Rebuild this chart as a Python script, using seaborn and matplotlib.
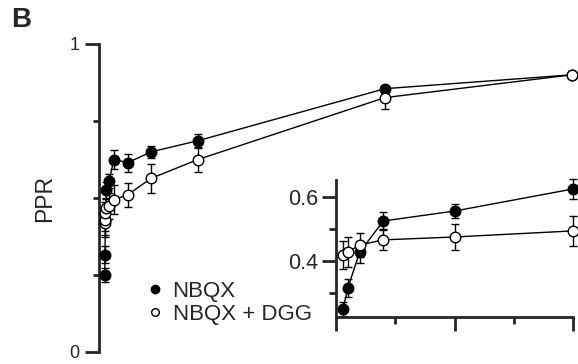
import matplotlib
matplotlib.use("Agg")
import matplotlib.pyplot as plt
import seaborn as sns
import pandas as pd
from matplotlib.lines import Line2D

# ---- data ----
isi = [6, 10, 20, 40, 100, 200, 500, 1000, 2000, 6000, 10000]
nbqx = [0.25, 0.316, 0.428, 0.525, 0.556, 0.625, 0.615, 0.650, 0.686, 0.855, 0.900]
nbqx_err = [0.022, 0.028, 0.034, 0.028, 0.022, 0.031, 0.029, 0.020, 0.023, 0.010, 0.005]
dgg = [0.419, 0.428, 0.450, 0.466, 0.475, 0.494, 0.511, 0.564, 0.625, 0.826, 0.900]
dgg_err = [0.044, 0.047, 0.037, 0.033, 0.042, 0.047, 0.039, 0.047, 0.040, 0.038, 0.005]
n_inset = 6
series_names = ["NBQX", "NBQX + DGG"]
main_yticks = [0, 1]
main_yticklabels = ["0", "1"]
inset_yticks = [0.4, 0.6]
inset_yticklabels = ["0.4", "0.6"]

sns.set_style("ticks")
plt.rcParams["font.family"] = ["Liberation Sans", "DejaVu Sans"]

W, H = 578, 364
fig = plt.figure(figsize=(W / 100, H / 100), dpi=100)

def px_axes(l, t, r, b):
    return fig.add_axes([l / W, 1 - b / H, (r - l) / W, (b - t) / H])

df = pd.DataFrame({
    "isi": isi * 2,
    "ppr": nbqx + dgg,
    "err": nbqx_err + dgg_err,
    "cond": [series_names[0]] * len(isi) + [series_names[1]] * len(isi),
})

def draw(ax, d):
    for name, face in zip(series_names, ["black", "white"]):
        sub = d[d["cond"] == name]
        ax.errorbar(sub["isi"], sub["ppr"], yerr=sub["err"], fmt="none",
                    ecolor="black", elinewidth=1.0, capsize=3.2, capthick=1.0,
                    zorder=2, clip_on=False)
        sns.lineplot(data=sub, x="isi", y="ppr", ax=ax, color="black",
                     linewidth=1.0, marker="o", markersize=7.6,
                     markerfacecolor=face, markeredgecolor="black",
                     markeredgewidth=1.0, zorder=3, legend=False,
                     estimator=None, sort=False, clip_on=False)

# ---- main axes ----
ax = px_axes(99, 44, 578, 352)
draw(ax, df)
k = 0.04675
ax.set_xlim(-5.5 / k, (578 - 99 - 5.5) / k)
ax.set_ylim(0, 1)
for s in ["top", "right", "bottom"]:
    ax.spines[s].set_visible(False)
ax.spines["left"].set_linewidth(2.0)
ax.set_xticks([])
ax.set_yticks(main_yticks)
ax.set_yticklabels(main_yticklabels, fontsize=13)
ax.set_yticks([0.25, 0.5, 0.75], minor=True)
ax.tick_params(axis="y", which="major", length=10, width=2.0, pad=4)
ax.tick_params(axis="y", which="minor", length=4, width=2.0)
ax.set_xlabel("")
ax.set_ylabel("")
ax.patch.set_alpha(0)

fig.text(45 / W, 1 - 199 / H, "PPR", rotation=90, ha="center", va="center", fontsize=16.5)
fig.text(11 / W, 1 - 7 / H, "B", ha="left", va="top", fontsize=20, fontweight="bold")

# ---- inset ----
ins = px_axes(336, 180, 573, 316.7)
draw(ins, df[df["isi"] <= isi[n_inset - 1]])
ins.set_xlim(0, 200)
ins.set_ylim(0.226, 0.653)
for s in ["top", "right"]:
    ins.spines[s].set_visible(False)
for s in ["left", "bottom"]:
    ins.spines[s].set_linewidth(2.0)
ins.set_xticks([0, 100, 200])
ins.set_xticklabels([])
ins.set_xticks([50, 150], minor=True)
ins.set_yticks(inset_yticks)
ins.set_yticklabels(inset_yticklabels, fontsize=15.5)
ins.set_yticks([0.3, 0.5], minor=True)
ins.tick_params(which="major", length=10, width=2.0, pad=3)
ins.tick_params(which="minor", length=5, width=2.0)
ins.set_xlabel("")
ins.set_ylabel("")
ins.patch.set_alpha(0)

# ---- legend ----
handles = [
    Line2D([], [], linestyle="none", marker="o", markersize=6, markerfacecolor="black",
           markeredgecolor="black", markeredgewidth=1.0),
    Line2D([], [], linestyle="none", marker="o", markersize=5.5, markerfacecolor="white",
           markeredgecolor="black", markeredgewidth=1.0),
]
fig.legend(handles, series_names, loc="upper left",
           bbox_to_anchor=(147 / W, 1 - 281 / H), frameon=False, fontsize=16,
           handlelength=0.7, handletextpad=0.45, labelspacing=0.08,
           borderpad=0, borderaxespad=0)

fig.savefig("out.png", dpi=100)
